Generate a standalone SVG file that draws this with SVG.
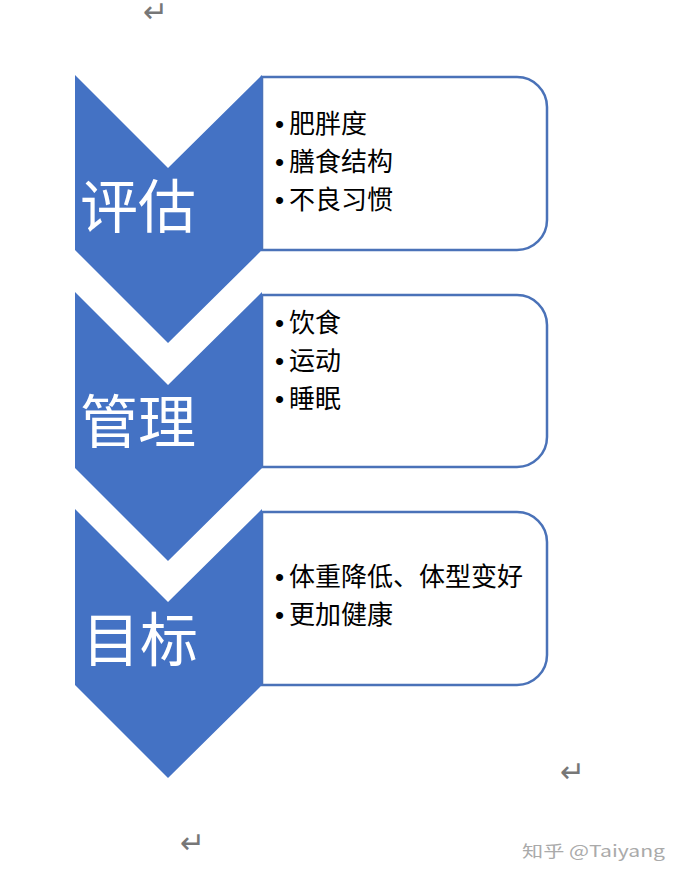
<svg xmlns="http://www.w3.org/2000/svg" width="681" height="884" viewBox="0 0 681 884">
<style>
.chev{fill:#4472C4}
.box{fill:#fff;stroke:#4A72B8;stroke-width:2.5}
.lbl{font-family:"Noto Sans CJK SC","Noto Sans",sans-serif;font-size:58px;fill:#fff}
.item{font-family:"Noto Sans CJK SC","Noto Sans",sans-serif;font-size:26px;fill:#000}
.b{font-family:"Liberation Sans",Arial,sans-serif}
.mark{font-family:"DejaVu Sans",sans-serif;font-size:30px;fill:#777}
.wm{font-family:"Noto Sans CJK SC","Noto Sans",sans-serif;font-size:16px;fill:#aaa}
</style>
<rect width="681" height="884" fill="#fff"/>
<g id="step1">
<path class="box" d="M262,77 H517 A30,30 0 0 1 547,107 V220 A30,30 0 0 1 517,250 H262 Z"/>
<path class="chev" d="M75,75 L168,168 L262,75 L262,250 L168,343 L75,250 Z"/>
<text class="lbl" x="80" y="228">评估</text>
<text class="item"><tspan class="b" x="275" y="133">•</tspan><tspan x="289" y="133">肥胖度</tspan></text>
<text class="item"><tspan class="b" x="275" y="171">•</tspan><tspan x="289" y="171">膳食结构</tspan></text>
<text class="item"><tspan class="b" x="275" y="209">•</tspan><tspan x="289" y="209">不良习惯</tspan></text>
</g>
<g id="step2">
<path class="box" d="M262,295 H517 A30,30 0 0 1 547,325 V437 A30,30 0 0 1 517,467 H262 Z"/>
<path class="chev" d="M75,292 L168,385 L262,292 L262,468 L168,561 L75,468 Z"/>
<text class="lbl" x="80" y="443">管理</text>
<text class="item"><tspan class="b" x="275" y="332">•</tspan><tspan x="289" y="332">饮食</tspan></text>
<text class="item"><tspan class="b" x="275" y="370">•</tspan><tspan x="289" y="370">运动</tspan></text>
<text class="item"><tspan class="b" x="275" y="408">•</tspan><tspan x="289" y="408">睡眠</tspan></text>
</g>
<g id="step3">
<path class="box" d="M262,512 H517 A30,30 0 0 1 547,542 V655 A30,30 0 0 1 517,685 H262 Z"/>
<path class="chev" d="M75,509 L168,602 L262,509 L262,685 L168,778 L75,685 Z"/>
<text class="lbl" x="82" y="661">目标</text>
<text class="item"><tspan class="b" x="275" y="586">•</tspan><tspan x="289" y="586">体重降低、体型变好</tspan></text>
<text class="item"><tspan class="b" x="275" y="624">•</tspan><tspan x="289" y="624">更加健康</tspan></text>
</g>
<g id="connectors"></g>
<text class="mark" x="143" y="22">↵</text>
<text class="mark" x="560" y="782">↵</text>
<text class="mark" x="180" y="853">↵</text>
<text class="wm" x="522" y="857" textLength="143" lengthAdjust="spacingAndGlyphs">知乎 @Taiyang</text>
</svg>
